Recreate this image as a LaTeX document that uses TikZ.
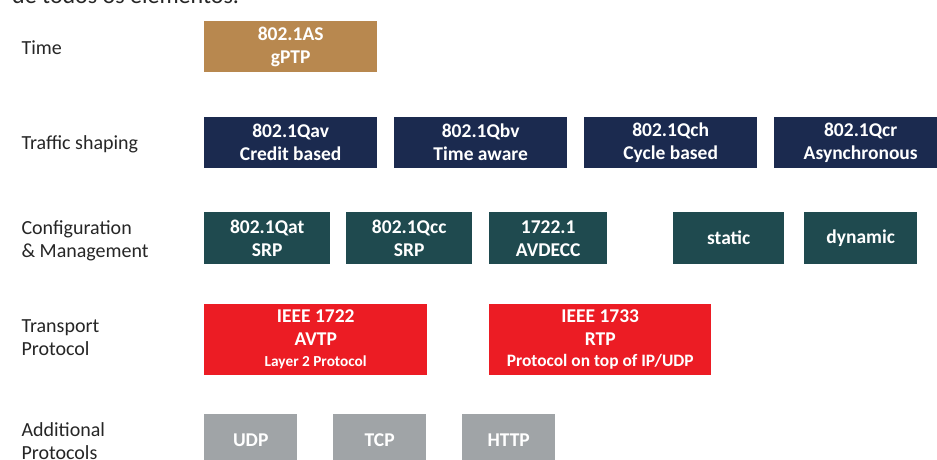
\documentclass[tikz,border=0pt]{standalone}
\usepackage{fontspec}
\setmainfont{Carlito}
\usepackage{xcolor}
\usetikzlibrary{positioning}

\definecolor{timegold}{HTML}{B8884F}
\definecolor{shapenavy}{HTML}{1B2A4F}
\definecolor{cfgteal}{HTML}{1F4A4F}
\definecolor{protored}{HTML}{EC1C24}
\definecolor{extragray}{HTML}{A0A4A7}

\tikzset{
  rowlabel/.style={anchor=west, align=left, font=\fontsize{20}{23}\selectfont, text=black!85},
  tsnbox/.style={anchor=north west, inner sep=0pt, align=center, text=white,
    font=\bfseries\fontsize{19.5}{23}\selectfont},
}

\begin{document}
\begin{tikzpicture}[x=1pt, y=-1pt]
    \clip (0,0) rectangle (937,459);
    \fill[white] (0,0) rectangle (937,459);

    % cut-off caption line
    \node (caption) [anchor=base west, inner sep=0pt, font=\fontsize{24}{28}\selectfont, text=black!85] at (12,3) {de todos os elementos.};

    % Row labels
    \node (ltime) [rowlabel] at (18,48) {Time};
    \node (lshape) [rowlabel] at (18,144) {Traffic shaping};
    \node (lcfg) [rowlabel] at (18,241) {Configuration\\\& Management};
    \node (ltrans) [rowlabel] at (18,338) {Transport\\Protocol};
    \node (lextra) [rowlabel] at (18,441) {Additional\\Protocols};

    % Time
    \node (gptp) [tsnbox, fill=timegold, minimum width=173, minimum height=51] at (204,21) {802.1AS\\gPTP};

    % Traffic shaping
    \node (qav) [tsnbox, fill=shapenavy, minimum width=173, minimum height=51] at (204,117) {802.1Qav\\Credit based};
    \node (qbv) [tsnbox, fill=shapenavy, minimum width=173, minimum height=51] at (394,117) {802.1Qbv\\Time aware};
    \node (qch) [tsnbox, fill=shapenavy, minimum width=173, minimum height=51] at (584,117) {802.1Qch\\Cycle based};
    \node (qcr) [tsnbox, fill=shapenavy, minimum width=173, minimum height=51] at (774,117) {802.1Qcr\\Asynchronous};

    % Configuration & Management
    \node (qat) [tsnbox, fill=cfgteal, minimum width=126, minimum height=52] at (204,212) {802.1Qat\\SRP};
    \node (qcc) [tsnbox, fill=cfgteal, minimum width=126, minimum height=52] at (346,212) {802.1Qcc\\SRP};
    \node (avdecc) [tsnbox, fill=cfgteal, minimum width=118, minimum height=52] at (489,212) {1722.1\\AVDECC};
    \node (static) [tsnbox, fill=cfgteal, minimum width=111, minimum height=52] at (673,212) {static};
    \node (dynamic) [tsnbox, fill=cfgteal, minimum width=113, minimum height=52] at (804,212) {dynamic};

    % Transport Protocol
    \node (avtp) [tsnbox, fill=protored, minimum width=223, minimum height=71] at (204,304)
      {IEEE 1722\\AVTP\\[-2pt]{\fontsize{15.3}{17}\selectfont Layer 2 Protocol}};
    \node (rtp) [tsnbox, fill=protored, minimum width=222, minimum height=71] at (489,304)
      {IEEE 1733\\RTP\\[-2pt]{\fontsize{17.4}{19}\selectfont Protocol on top of IP/UDP}};

    % Additional Protocols
    \node (udp) [tsnbox, fill=extragray, minimum width=93, minimum height=52] at (204,414) {UDP};
    \node (tcp) [tsnbox, fill=extragray, minimum width=93, minimum height=52] at (333,414) {TCP};
    \node (http) [tsnbox, fill=extragray, minimum width=93, minimum height=52] at (462,414) {HTTP};
\end{tikzpicture}
\end{document}
